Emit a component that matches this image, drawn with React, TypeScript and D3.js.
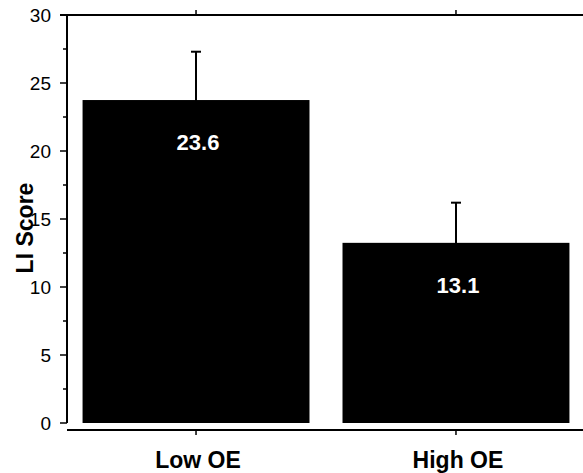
import React, { useEffect, useRef } from 'react';
import * as d3 from 'd3';

const categories = ['Low OE', 'High OE'];
const scores = [23.6, 13.1];
const errors = [3.7, 3.1];
const yTicks = [0, 5, 10, 15, 20, 25, 30];
const yMinorTicks = [2.5, 7.5, 12.5, 17.5, 22.5, 27.5];

const WIDTH = 583;
const HEIGHT = 473;
const FONT = "Arial, 'Liberation Sans', Helvetica, sans-serif";

export default function App() {
  const ref = useRef<SVGSVGElement>(null);

  useEffect(() => {
    const svg = d3.select(ref.current);
    svg.selectAll('*').remove();

    const axisX = 67;
    const xAxisY = 430;

    const yScale = d3.scaleLinear().domain([0, 30]).range([423, 15]);
    const xScale = d3.scaleBand<string>()
      .domain(categories)
      .range([68, 584])
      .paddingInner(0.127)
      .paddingOuter(0.056);

    const data = categories.map((c, i) => ({ cat: c, value: scores[i], err: errors[i] }));
    const cx = (d: { cat: string }) => xScale(d.cat)! + xScale.bandwidth() / 2;

    // bars
    svg.selectAll('.bar')
      .data(data)
      .join('rect')
      .attr('class', 'bar')
      .attr('x', d => xScale(d.cat)!)
      .attr('width', xScale.bandwidth())
      .attr('y', d => yScale(d.value) - 2)
      .attr('height', d => yScale(0) - yScale(d.value) + 2)
      .attr('fill', '#000');

    // error bars, upper half only
    svg.selectAll('.err')
      .data(data)
      .join('line')
      .attr('class', 'err')
      .attr('x1', cx).attr('x2', cx)
      .attr('y1', d => yScale(d.value))
      .attr('y2', d => yScale(d.value + d.err))
      .attr('stroke', '#000').attr('stroke-width', 2);
    svg.selectAll('.errcap')
      .data(data)
      .join('line')
      .attr('class', 'errcap')
      .attr('x1', d => cx(d) - 5).attr('x2', d => cx(d) + 5)
      .attr('y1', d => yScale(d.value + d.err))
      .attr('y2', d => yScale(d.value + d.err))
      .attr('stroke', '#000').attr('stroke-width', 2);

    // value labels inside bars
    svg.selectAll('.val')
      .data(data)
      .join('text')
      .attr('class', 'val')
      .attr('x', d => cx(d) + 2)
      .attr('y', d => yScale(d.value) + 48)
      .attr('text-anchor', 'middle')
      .attr('fill', '#fff')
      .attr('font-family', FONT)
      .attr('font-weight', 'bold')
      .attr('font-size', 22)
      .text(d => d.value.toFixed(1));

    // y axis line
    svg.append('line')
      .attr('x1', axisX).attr('x2', axisX)
      .attr('y1', yScale(30)).attr('y2', yScale(0))
      .attr('stroke', '#000').attr('stroke-width', 2);

    // top frame line with category ticks
    svg.append('line')
      .attr('x1', 60).attr('x2', WIDTH)
      .attr('y1', yScale(30)).attr('y2', yScale(30))
      .attr('stroke', '#000').attr('stroke-width', 2);
    svg.selectAll('.toptick')
      .data(data)
      .join('line')
      .attr('class', 'toptick')
      .attr('x1', cx).attr('x2', cx)
      .attr('y1', yScale(30)).attr('y2', yScale(30) - 5)
      .attr('stroke', '#000').attr('stroke-width', 1.5);

    // bottom x axis
    svg.append('line')
      .attr('x1', axisX).attr('x2', WIDTH)
      .attr('y1', xAxisY).attr('y2', xAxisY)
      .attr('stroke', '#000').attr('stroke-width', 2);
    svg.selectAll('.bottick')
      .data(data)
      .join('line')
      .attr('class', 'bottick')
      .attr('x1', cx).attr('x2', cx)
      .attr('y1', xAxisY).attr('y2', xAxisY + 5)
      .attr('stroke', '#000').attr('stroke-width', 1.5);

    // y ticks
    svg.selectAll('.ytick')
      .data(yTicks)
      .join('line')
      .attr('class', 'ytick')
      .attr('x1', axisX - 7).attr('x2', axisX)
      .attr('y1', d => yScale(d)).attr('y2', d => yScale(d))
      .attr('stroke', '#000').attr('stroke-width', 1.5);
    svg.selectAll('.yminor')
      .data(yMinorTicks)
      .join('line')
      .attr('class', 'yminor')
      .attr('x1', axisX - 4).attr('x2', axisX)
      .attr('y1', d => yScale(d)).attr('y2', d => yScale(d))
      .attr('stroke', '#000').attr('stroke-width', 1.5);
    svg.selectAll('.ylab')
      .data(yTicks)
      .join('text')
      .attr('class', 'ylab')
      .attr('x', 51)
      .attr('y', d => yScale(d))
      .attr('dy', '0.35em')
      .attr('text-anchor', 'end')
      .attr('font-family', FONT)
      .attr('font-size', 19)
      .attr('fill', '#000')
      .text(d => d);

    // category labels
    svg.selectAll('.xlab')
      .data(data)
      .join('text')
      .attr('class', 'xlab')
      .attr('x', d => cx(d) + 2)
      .attr('y', 468)
      .attr('text-anchor', 'middle')
      .attr('font-family', FONT)
      .attr('font-weight', 'bold')
      .attr('font-size', 23)
      .attr('fill', '#000')
      .text(d => d.cat);

    // y axis title
    svg.append('text')
      .attr('transform', `translate(33, 228) rotate(-90)`)
      .attr('text-anchor', 'middle')
      .attr('font-family', FONT)
      .attr('font-weight', 'bold')
      .attr('font-size', 23)
      .attr('fill', '#000')
      .text('LI Score');
  }, []);

  return (
    <svg
      ref={ref}
      width={WIDTH}
      height={HEIGHT}
      style={{ position: 'absolute', left: 0, top: 0, background: '#fff' }}
    />
  );
}
